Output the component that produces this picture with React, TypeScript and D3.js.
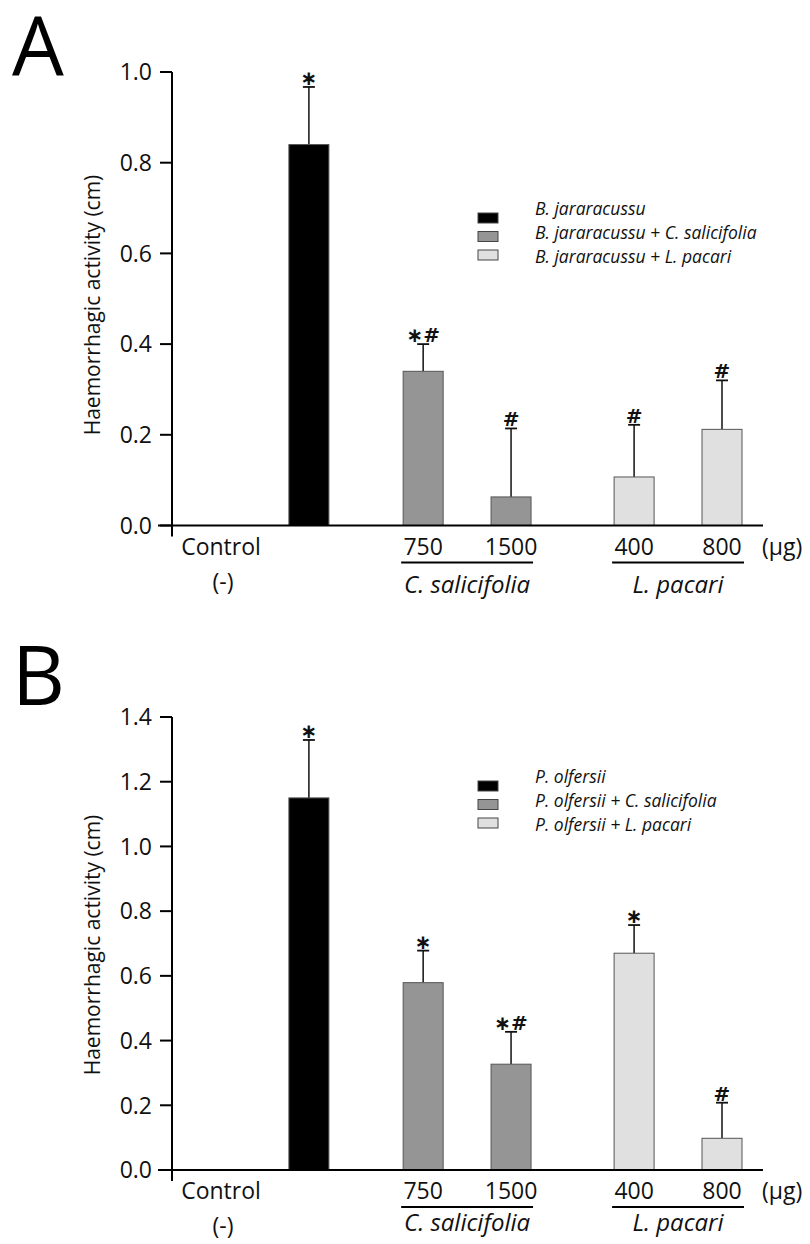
import React from "react";
import * as d3 from "d3";

// ---------- data ----------
const categories = ["Control", "Venom", "750", "1500", "400", "800"];
const groups = ["control", "venom", "C", "C", "L", "L"];
const groupNames = { C: "C. salicifolia", L: "L. pacari" };
const doseUnit = "(µg)";

const meansA = [null, 0.84, 0.34, 0.063, 0.107, 0.212];
const errorsA = [null, 0.127, 0.06, 0.151, 0.115, 0.108];
const marksA = ["", "*", "*#", "#", "#", "#"];
const legendA = ["B. jararacussu", "B. jararacussu + C. salicifolia", "B. jararacussu + L. pacari"];
const ticksA = [0, 0.2, 0.4, 0.6, 0.8, 1.0];

const meansB = [null, 1.15, 0.579, 0.327, 0.67, 0.098];
const errorsB = [null, 0.179, 0.099, 0.1, 0.087, 0.11];
const marksB = ["", "*", "*", "*#", "*", "#"];
const legendB = ["P. olfersii", "P. olfersii + C. salicifolia", "P. olfersii + L. pacari"];
const ticksB = [0, 0.2, 0.4, 0.6, 0.8, 1.0, 1.2, 1.4];

const seriesColors = ["#000000", "#959595", "#e0e0e0"];
const seriesOfGroup = { venom: 0, C: 1, L: 2 };

// ---------- layout ----------
const FONT = "'Open Sans', 'Noto Sans', sans-serif";
const GAP_BEFORE = { C: 0.3, L: 0.4 };
const slots = (() => {
  const out = [];
  let pos = 0;
  groups.forEach((g, i) => {
    if (i > 0 && g !== groups[i - 1] && GAP_BEFORE[g]) pos += GAP_BEFORE[g];
    out.push(pos);
    pos += 1;
  });
  return out;
})();
const x = d3.scaleLinear().domain([0, slots[slots.length - 1]]).range([221, 722]);
const BAR_W = 40;
const AXIS_X = 172;

function Panel({ letter, letterY, top, bottom, yMax, ticks, means, errors, marks, legend, legendTop, italicDy, titleY }) {
  const y = d3.scaleLinear().domain([0, yMax]).range([bottom, top]);
  const fmt = d3.format(".1f");
  const labelY = bottom + 29;
  const ulY = bottom + 37;
  const groupKeys = ["C", "L"];
  return (
    <g>
      <text x={12} y={letterY} fontFamily={FONT} fontSize={82} fill="#000">{letter}</text>

      {/* y axis */}
      <line x1={AXIS_X} x2={AXIS_X} y1={y(yMax)} y2={bottom + 11} stroke="#000" strokeWidth={2} />
      {ticks.map((t) => (
        <g key={t}>
          <line x1={AXIS_X - 12} x2={AXIS_X} y1={y(t)} y2={y(t)} stroke="#000" strokeWidth={2} />
          <text x={152} y={y(t)} dy="0.36em" textAnchor="end" fontFamily={FONT} fontSize={23} fill="#111">{fmt(t)}</text>
        </g>
      ))}
      <g transform={`translate(100,${titleY})`}>
        <text
          transform="rotate(-90)"
          textAnchor="middle"
          fontFamily={FONT}
          fontSize={21}
          fill="#111"
        >Haemorrhagic activity (cm)</text>
      </g>

      {/* bars */}
      {means.map((m, i) => {
        if (m == null) return null;
        const cx = x(slots[i]);
        const s = seriesOfGroup[groups[i]];
        const errTop = y(m + errors[i]);
        return (
          <g key={i}>
            <line x1={cx} x2={cx} y1={y(m)} y2={errTop} stroke="#111" strokeWidth={1.5} />
            <line x1={cx - 6} x2={cx + 6} y1={errTop} y2={errTop} stroke="#111" strokeWidth={1.8} />
            <rect x={cx - BAR_W / 2} y={y(m)} width={BAR_W} height={bottom - y(m)} fill={seriesColors[s]} stroke="#555" strokeWidth={1} />
            <text x={cx} y={errTop - 2} textAnchor="middle" fontFamily="'DejaVu Sans', sans-serif" fontWeight="bold" fontSize={20} fill="#111">
              {marks[i].replace(/\*/g, "\u2217")}
            </text>
          </g>
        );
      })}

      {/* x axis */}
      <line x1={158} x2={763} y1={bottom} y2={bottom} stroke="#000" strokeWidth={2} />

      {/* x labels */}
      <text x={x(slots[0])} y={labelY} textAnchor="middle" fontFamily={FONT} fontSize={23} fill="#111">{categories[0]}</text>
      <text x={x(slots[0]) + 2} y={bottom + 64} textAnchor="middle" fontFamily={FONT} fontSize={23} fill="#111">(-)</text>
      {categories.map((c, i) =>
        groups[i] === "C" || groups[i] === "L" ? (
          <text key={c} x={x(slots[i])} y={labelY} textAnchor="middle" fontFamily={FONT} fontSize={23} fill="#111">{c}</text>
        ) : null
      )}
      <text x={x(slots[slots.length - 1]) + 40} y={labelY} fontFamily={FONT} fontSize={23} fill="#111">{doseUnit}</text>
      {groupKeys.map((g) => {
        const idx = groups.map((gg, i) => (gg === g ? i : -1)).filter((i) => i >= 0);
        const x1 = x(slots[idx[0]]) - 22;
        const x2 = x(slots[idx[idx.length - 1]]) + 22;
        return (
          <g key={g}>
            <line x1={x1} x2={x2} y1={ulY} y2={ulY} stroke="#000" strokeWidth={2} />
            <text x={(x1 + x2) / 2} y={bottom + italicDy} textAnchor="middle" fontFamily={FONT} fontStyle="italic" fontSize={24} fill="#111">{groupNames[g]}</text>
          </g>
        );
      })}

      {/* legend */}
      {legend.map((l, i) => (
        <g key={l}>
          <rect x={478} y={legendTop + 18.5 * i} width={20} height={10} fill={seriesColors[i]} stroke="#444" strokeWidth={1} />
          <text x={535} y={legendTop + 2 + 24 * i} fontFamily={FONT} fontStyle="italic" fontSize={17.5} fill="#111">{l}</text>
        </g>
      ))}
    </g>
  );
}

export default function App() {
  return (
    <svg width={810} height={1244} style={{ position: "absolute", left: 0, top: 0, background: "#fff" }}>
      <rect width={810} height={1244} fill="#fff" />
      <Panel letter="A" letterY={76} top={72} bottom={525.5} yMax={1.0} ticks={ticksA} titleY={305}
        means={meansA} errors={errorsA} marks={marksA} legend={legendA} legendTop={213} italicDy={67} />
      <Panel letter="B" letterY={705} top={717} bottom={1170} yMax={1.4} ticks={ticksB} titleY={945}
        means={meansB} errors={errorsB} marks={marksB} legend={legendB} legendTop={781} italicDy={61} />
    </svg>
  );
}
